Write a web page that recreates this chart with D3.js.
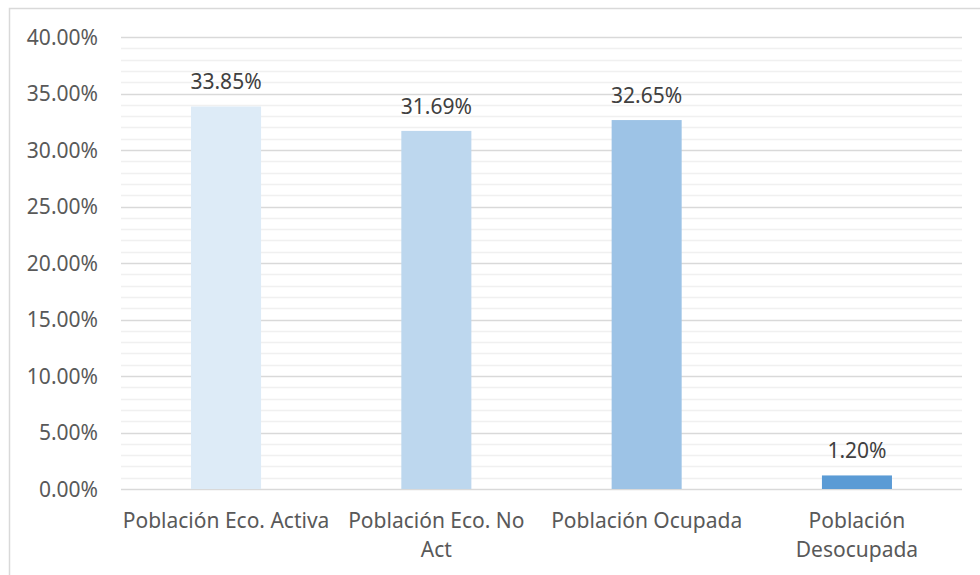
<!DOCTYPE html>
<html><head><meta charset="utf-8">
<script src="https://cdn.jsdelivr.net/npm/d3@7"></script>
<style>body{margin:0;background:#fff;} svg{display:block;}</style>
</head><body>
<svg id="c" width="980" height="575"></svg>
<script>
const categories = ["Población Eco. Activa", "Población Eco. No Act", "Población Ocupada", "Población Desocupada"];
const categoryLines = [["Población Eco. Activa"], ["Población Eco. No", "Act"], ["Población Ocupada"], ["Población", "Desocupada"]];
const values = [33.85, 31.69, 32.65, 1.20];
const colors = ["#DDEBF7", "#BDD7EE", "#9DC3E6", "#5B9BD5"];
const yTicks = [0, 5, 10, 15, 20, 25, 30, 35, 40];

(function () {
const svg = d3.select("#c");
const font = "'Noto Sans', 'Open Sans', sans-serif";
svg.append("rect").attr("x", 9.5).attr("y", 8.5).attr("width", 1000).attr("height", 600)
  .attr("fill", "#fff").attr("stroke", "#d9d9d9").attr("stroke-width", 1.5);

const pLeft = 121, pRight = 962, pTop = 37, pBottom = 489;
const x = d3.scaleBand().domain(categories).range([pLeft, pRight]).paddingInner(0.667).paddingOuter(0.333);
const y = d3.scaleLinear().domain([0, 40]).range([pBottom, pTop]);

// minor grid
const minor = d3.range(0, 41, 1).filter(v => v % 5 !== 0);
svg.append("g").selectAll("line").data(minor).join("line")
  .attr("x1", pLeft).attr("x2", pRight).attr("y1", d => Math.round(y(d)) + 0.5).attr("y2", d => Math.round(y(d)) + 0.5)
  .attr("stroke", "#f0f0f0").attr("stroke-width", 1.5);
// major grid
svg.append("g").selectAll("line").data(yTicks).join("line")
  .attr("x1", pLeft).attr("x2", pRight).attr("y1", d => Math.round(y(d)) + 0.5).attr("y2", d => Math.round(y(d)) + 0.5)
  .attr("stroke", "#d9d9d9").attr("stroke-width", 1.5);

// y axis labels
const yAxis = d3.axisLeft(y).tickValues(yTicks).tickFormat(d => d.toFixed(2) + "%").tickSize(0).tickPadding(0);
const ga = svg.append("g").attr("transform", `translate(98,0)`).call(yAxis);
ga.select(".domain").remove();
ga.selectAll("text").attr("font-family", font).attr("font-size", 21).attr("fill", "#595959").attr("dy", "0.34em");

// bars
svg.append("g").selectAll("rect").data(values).join("rect")
  .attr("x", (d, i) => x(categories[i])).attr("width", x.bandwidth())
  .attr("y", d => y(d)).attr("height", d => y(0) - y(d))
  .attr("fill", (d, i) => colors[i]);

// value labels
svg.append("g").selectAll("text").data(values).join("text")
  .attr("x", (d, i) => x(categories[i]) + x.bandwidth() / 2)
  .attr("y", d => y(d) - 17)
  .attr("text-anchor", "middle").attr("font-family", font).attr("font-size", 21).attr("fill", "#404040")
  .text(d => d.toFixed(2) + "%");

// category labels
const cl = svg.append("g").selectAll("text").data(categoryLines).join("text")
  .attr("text-anchor", "middle").attr("font-family", font).attr("font-size", 21).attr("fill", "#595959")
  .attr("transform", (d, i) => `translate(${x(categories[i]) + x.bandwidth() / 2},0)`);
cl.selectAll("tspan").data(d => d).join("tspan")
  .attr("x", 0).attr("y", (d, j) => 528 + j * 29).text(d => d);
})();
</script>
</body></html>
